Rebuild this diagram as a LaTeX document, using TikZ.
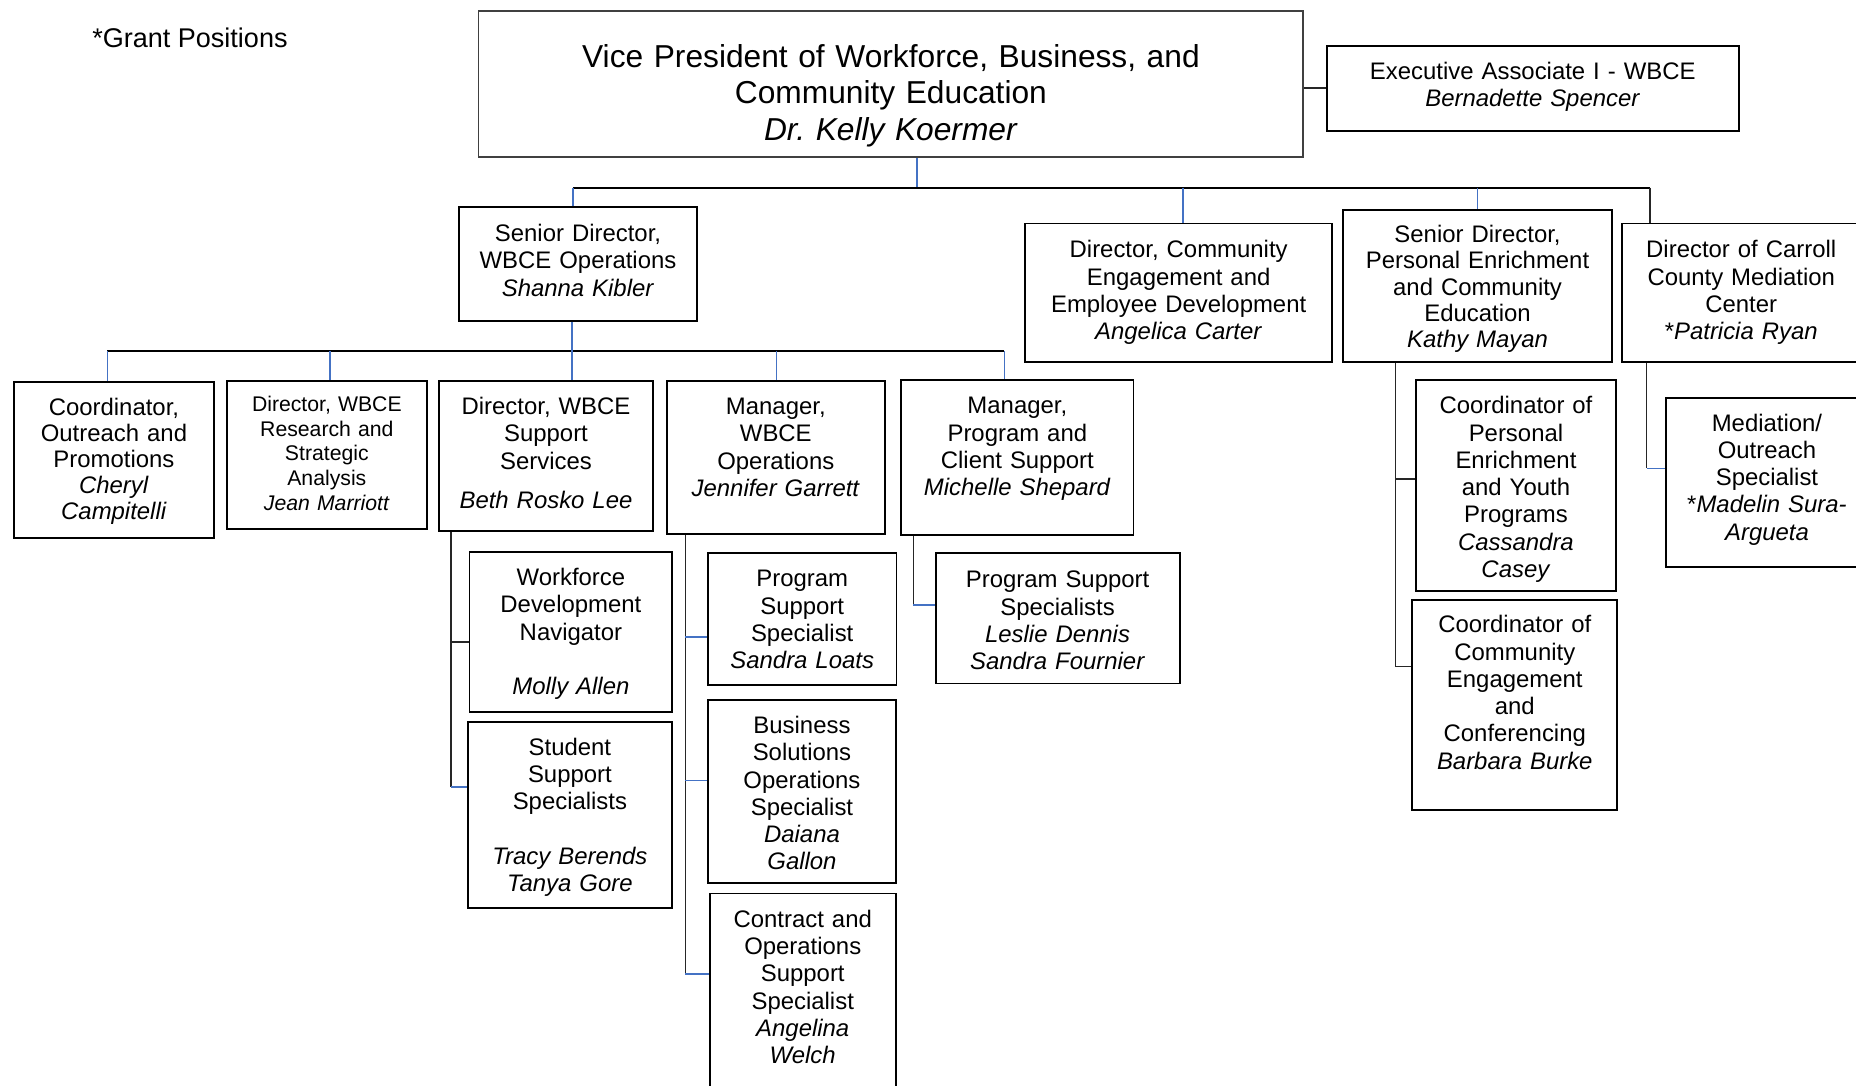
\documentclass[tikz,border=0pt]{standalone}
\usepackage{fontspec}
\setmainfont{Liberation Sans}
\usepackage{tikz}
\definecolor{orgblue}{RGB}{68,114,196}
\tikzset{
    orgbox/.style={rectangle, draw=black, line width=0.9pt, align=center, inner sep=0pt, anchor=north west, font=\fontsize{11.5}{13.1}\selectfont},
    busline/.style={draw=black, line width=0.8pt},
    darkline/.style={draw=black!85, line width=0.8pt},
    blueline/.style={draw=orgblue, line width=0.8pt}
}
\begin{document}
\begin{tikzpicture}[x=0.02cm, y=-0.02cm]
    \useasboundingbox (0,0) rectangle (1568,917);
    \clip (0,0) rectangle (1568,917);

    % Note and top boxes
    \node (grant) [anchor=base west, inner sep=0pt, font=\fontsize{13}{15}\selectfont] at (77.6,40.5) {*Grant Positions};
    \node (vp) [orgbox, draw=black!75, font=\fontsize{15.25}{17.6}\selectfont, text width=13.942cm, text height=0.952cm, text depth=1.516cm] at (403.4,8.4) {Vice President of Workforce, Business, and\\ Community Education\\ \textit{Dr.\ Kelly Koermer}};
    \node (exec) [orgbox, text width=6.966cm, text height=0.56cm, text depth=0.872cm] at (1120,38) {Executive Associate I - WBCE\\ \textit{Bernadette Spencer}};

    % Second level
    \node (srops) [orgbox, text width=4.01cm, text height=0.586cm, text depth=1.34cm] at (387.3,174) {Senior Director,\\ WBCE Operations\\ \textit{Shanna Kibler}};
    \node (comm) [orgbox, text width=5.18cm, text height=0.58cm, text depth=1.754cm] at (865.5,188) {Director, Community\\ Engagement and\\ Employee Development\\ \textit{Angelica Carter}};
    \node (pers) [orgbox, font=\fontsize{11.5}{12.55}\selectfont, text width=4.54cm, text height=0.556cm, text depth=2.006cm] at (1134,176.6) {Senior Director,\\ Personal Enrichment\\ and Community\\ Education\\ \textit{Kathy Mayan}};
    \node (carroll) [orgbox, text width=4.03cm, text height=0.58cm, text depth=1.754cm] at (1369.5,188) {Director of Carroll\\ County Mediation\\ Center\\ {*}\textit{Patricia Ryan}};

    % Under WBCE Operations
    \node (outreach) [orgbox, font=\fontsize{11.5}{12.5}\selectfont, text width=3.38cm, text height=0.568cm, text depth=2.068cm] at (11,321.6) {Coordinator,\\ Outreach and\\ Promotions\\ \textit{Cheryl}\\ \textit{Campitelli}};
    \node (research) [orgbox, font=\fontsize{10.2}{11.8}\selectfont, text width=3.378cm, text height=0.524cm, text depth=1.982cm] at (190.9,321) {Director, WBCE\\ Research and\\ Strategic\\ Analysis\\ \textit{Jean Marriott}};
    \node (support) [orgbox, text width=3.628cm, text height=0.57cm, text depth=1.964cm] at (369.8,321) {Director, WBCE\\ Support\\ Services\\[6pt] \textit{Beth Rosko Lee}};
    \node (wbceops) [orgbox, text width=3.678cm, text height=0.57cm, text depth=2.022cm] at (562.7,321) {Manager,\\ WBCE\\ Operations\\ \textit{Jennifer Garrett}};
    \node (progclient) [orgbox, text width=3.924cm, text height=0.574cm, text depth=2.044cm] at (760.6,320.2) {Manager,\\ Program and\\ Client Support\\ \textit{Michelle Shepard}};

    % Staff boxes
    \node (workforce) [orgbox, text width=3.426cm, text height=0.568cm, text depth=2.13cm] at (395.9,465.5) {Workforce\\ Development\\ Navigator\\ ~\\ \textit{Molly Allen}};
    \node (student) [orgbox, text width=3.448cm, text height=0.564cm, text depth=2.574cm] at (394.5,609.1) {Student\\ Support\\ Specialists\\ ~\\ \textit{Tracy Berends}\\ \textit{Tanya Gore}};
    \node (pss) [orgbox, text width=3.186cm, text height=0.568cm, text depth=1.658cm] at (597.3,466.6) {Program\\ Support\\ Specialist\\ \textit{Sandra Loats}};
    \node (bizsol) [orgbox, text width=3.17cm, text height=0.564cm, text depth=2.528cm] at (597.5,590.8) {Business\\ Solutions\\ Operations\\ Specialist\\ \textit{Daiana}\\ \textit{Gallon}};
    \node (contract) [orgbox, text width=3.144cm, text height=0.57cm, text depth=2.948cm] at (598.8,754.1) {Contract and\\ Operations\\ Support\\ Specialist\\ \textit{Angelina}\\ \textit{Welch}};
    \node (psss) [orgbox, text width=4.124cm, text height=0.586cm, text depth=1.616cm] at (789.6,466.6) {Program Support\\ Specialists\\ \textit{Leslie Dennis}\\ \textit{Sandra Fournier}};
    \node (coordpers) [orgbox, text width=3.382cm, text height=0.574cm, text depth=2.99cm] at (1195.4,320.2) {Coordinator of\\ Personal\\ Enrichment\\ and Youth\\ Programs\\ \textit{Cassandra}\\ \textit{Casey}};
    \node (coordcomm) [orgbox, text width=3.462cm, text height=0.562cm, text depth=2.99cm] at (1192.4,505.8) {Coordinator of\\ Community\\ Engagement\\ and\\ Conferencing\\ \textit{Barbara Burke}};
    \node (mediation) [orgbox, text width=3.4cm, text height=0.568cm, text depth=2.288cm] at (1407,335.1) {Mediation/\\ Outreach\\ Specialist\\ {*}\textit{Madelin Sura-}\\ \textit{Argueta}};

    % Bus points
    \coordinate (vpdrop) at (774.6,158.6);
    \coordinate (tbL) at (484,158.6);
    \coordinate (tbC) at (999.2,158.6);
    \coordinate (tbR) at (1394,158.6);
    \coordinate (sbL) at (90.7,296.5);
    \coordinate (sbRe) at (278.6,296.5);
    \coordinate (sbO) at (483,296.5);
    \coordinate (sbW) at (655.9,296.5);
    \coordinate (sbR) at (848.5,296.5);

    % Top level lines
    \draw [darkline] (vp.east |- exec.west) -- (exec.west);
    \draw [blueline] (vp.south -| vpdrop) -- (vpdrop);
    \draw [busline] (tbL) -- (tbR);
    \draw [blueline] (tbL) -- (srops.north -| tbL);
    \draw [blueline] (tbC) -- (comm.north -| tbC);
    \draw [blueline] (pers.north |- tbL) -- (pers.north);
    \draw [darkline] (tbR) -- (carroll.north -| tbR);

    % WBCE Operations bus
    \draw [busline] (sbL) -- (sbR);
    \draw [blueline] (srops.south -| sbO) -- (support.north -| sbO);
    \draw [blueline] (sbL) -- (outreach.north -| sbL);
    \draw [blueline] (sbRe) -- (research.north -| sbRe);
    \draw [blueline] (sbW) -- (wbceops.north -| sbW);
    \draw [blueline] (sbR) -- (progclient.north -| sbR);

    % Support Services staff
    \coordinate (sup1) at (381,542.4);
    \coordinate (sup2) at (381,664.6);
    \draw [darkline] (support.south -| sup1) -- (sup2);
    \draw [darkline] (sup1) -- (workforce.west |- sup1);
    \draw [blueline] (sup2) -- (student.west |- sup2);

    % WBCE Operations staff
    \coordinate (ops1) at (579,537.9);
    \coordinate (ops2) at (579,659.5);
    \coordinate (ops3) at (579,823.1);
    \draw [darkline] (wbceops.south -| ops1) -- (ops3);
    \draw [blueline] (ops1) -- (pss.west |- ops1);
    \draw [blueline] (ops2) -- (bizsol.west |- ops2);
    \draw [blueline] (ops3) -- (contract.west |- ops3);

    % Program and Client Support staff
    \coordinate (pc1) at (771.6,511.1);
    \draw [darkline] (progclient.south -| pc1) -- (pc1);
    \draw [blueline] (pc1) -- (psss.west |- pc1);

    % Personal Enrichment staff
    \coordinate (pe1) at (1178.9,404.7);
    \coordinate (pe2) at (1178.9,563.2);
    \draw [darkline] (pers.south -| pe1) -- (pe2);
    \draw [darkline] (pe1) -- (coordpers.west |- pe1);
    \draw [darkline] (pe2) -- (coordcomm.west |- pe2);

    % Mediation Center staff
    \coordinate (ca1) at (1391,395.7);
    \draw [darkline] (carroll.south -| ca1) -- (ca1);
    \draw [blueline] (ca1) -- (mediation.west |- ca1);
\end{tikzpicture}
\end{document}
